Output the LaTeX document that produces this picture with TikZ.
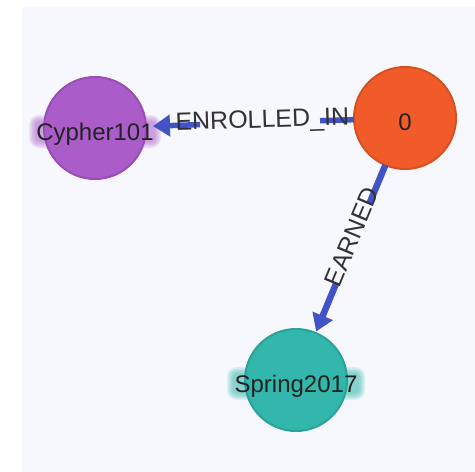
\documentclass[tikz,border=0pt]{standalone}
\usepackage{fontspec}
\setmainfont{Liberation Sans}
\usetikzlibrary{arrows.meta,calc}

\definecolor{canvas}{HTML}{F7F8FE}
\definecolor{cyfill}{HTML}{AA5DC8}
\definecolor{cyline}{HTML}{9A4DB8}
\definecolor{zerofill}{HTML}{F15B2A}
\definecolor{zeroline}{HTML}{D9501F}
\definecolor{spfill}{HTML}{33B6AB}
\definecolor{spline}{HTML}{2CA399}
\definecolor{relblue}{HTML}{4153C6}
\definecolor{nodetext}{HTML}{222222}
\definecolor{labeltext}{HTML}{333333}

\begin{document}
\begin{tikzpicture}[x=1pt,y=-1pt,
  graphnode/.style={circle, minimum size=102pt, inner sep=0pt, outer sep=0pt,
    line width=2pt, text=nodetext, font=\fontsize{24}{24}\selectfont,
    text height=24pt, text depth=0pt},
  rel/.style={draw=relblue, line width=5.5pt},
  relarrow/.style={rel, -{Triangle[length=17pt,width=21pt]}},
  rellabel/.style={sloped, inner sep=0pt, font=\fontsize{25}{25}\selectfont,
    text=labeltext, text height=17pt, text depth=7pt},
  halo/.style={fill=#1, opacity=0.15}
]
\useasboundingbox (0,0) rectangle (475,472);
\fill[canvas] (22,7) rectangle (475,472);

% soft glow around node captions that run past the circle
\foreach \e in {1,2.5,4,5.5,7}{
  \fill[halo=cyfill, rounded corners={\e pt+3pt}]
    ({95-59-\e},{131.5-9.5-\e}) rectangle ({95+59+\e},{131.5+9.5+\e});
  \fill[halo=spfill, rounded corners={\e pt+3pt}]
    ({296-62-\e},{383.5-9.5-\e}) rectangle ({296+62+\e},{383.5+9.5+\e});
}

% nodes
\node[graphnode, fill=cyfill, draw=cyline] (cy) at (95,128) {\makebox[0pt]{Cypher101}};
\node[graphnode, fill=zerofill, draw=zeroline] (n0) at (405,118) {\makebox[0pt]{0}};
\node[graphnode, fill=spfill, draw=spline] (sp) at (296,380) {\makebox[0pt]{Spring2017}};

% ENROLLED_IN: the line breaks where its caption sits
\coordinate (enrA) at ($(n0)!85pt!(cy)$);
\coordinate (enrB) at ($(n0)!205pt!(cy)$);
\draw[rel] (n0) -- (enrA);
\draw[relarrow, shorten >=7pt] (enrB) -- (cy);
\path (cy.center) -- (n0.center) node[rellabel, pos=0.540] (enrlabel) {ENROLLED\_IN};

% EARNED
\coordinate (earA) at ($(n0)!92pt!(sp)$);
\coordinate (earB) at ($(n0)!179pt!(sp)$);
\draw[rel, line width=6.5pt] (n0) -- (earA);
\draw[relarrow, line width=6.5pt, shorten >=1.5pt] (earB) -- (sp);
\path (sp.center) -- (n0.center) node[rellabel, pos=0.542] (earlabel) {EARNED};
\end{tikzpicture}
\end{document}
